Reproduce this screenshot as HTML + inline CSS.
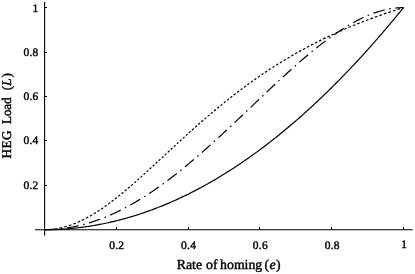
<!DOCTYPE html>
<html><head><meta charset="utf-8"><title>HEG Load</title>
<style>
html,body{margin:0;padding:0;background:#fff;}
body{width:415px;height:274px;overflow:hidden;font-family:"Liberation Serif",serif;}
svg{display:block;will-change:transform;}
text{font-family:"Liberation Serif",serif;fill:#000;stroke:#000;stroke-width:0.4px;text-rendering:geometricPrecision;}
</style></head><body>
<svg width="415" height="274" viewBox="0 0 415 274">
<rect width="415" height="274" fill="#fff"/>
<g stroke="#000" stroke-width="1.1" fill="none">
<line x1="35" y1="229.7" x2="412.7" y2="229.7"/>
<line x1="44.6" y1="2" x2="44.6" y2="235.6"/>
</g>
<g stroke="#000" stroke-width="1" fill="none"><line x1="116.5" y1="229.7" x2="116.5" y2="227.2"/><line x1="188.5" y1="229.7" x2="188.5" y2="227.2"/><line x1="259.5" y1="229.7" x2="259.5" y2="227.2"/><line x1="331.5" y1="229.7" x2="331.5" y2="227.2"/><line x1="403.5" y1="229.7" x2="403.5" y2="227.2"/><line x1="44.5" y1="185.5" x2="47.0" y2="185.5"/><line x1="44.5" y1="140.5" x2="47.0" y2="140.5"/><line x1="44.5" y1="96.5" x2="47.0" y2="96.5"/><line x1="44.5" y1="52.5" x2="47.0" y2="52.5"/><line x1="44.5" y1="7.5" x2="47.0" y2="7.5"/></g>
<g fill="none" stroke="#000" stroke-width="1.2">
<path d="M44.50,229.70 L45.70,229.70 L46.90,229.69 L48.10,229.68 L49.30,229.66 L50.50,229.64 L51.70,229.61 L52.90,229.58 L54.11,229.54 L55.31,229.50 L56.51,229.45 L57.71,229.40 L58.91,229.34 L60.11,229.28 L61.31,229.21 L62.51,229.14 L63.71,229.06 L64.91,228.98 L66.11,228.90 L67.31,228.80 L68.51,228.71 L69.71,228.60 L70.91,228.50 L72.12,228.39 L73.32,228.27 L74.52,228.15 L75.72,228.02 L76.92,227.89 L78.12,227.75 L79.32,227.61 L80.52,227.46 L81.72,227.31 L82.92,227.16 L84.12,226.99 L85.32,226.83 L86.52,226.66 L87.72,226.48 L88.92,226.30 L90.13,226.11 L91.33,225.92 L92.53,225.73 L93.73,225.52 L94.93,225.32 L96.13,225.11 L97.33,224.89 L98.53,224.67 L99.73,224.44 L100.93,224.21 L102.13,223.98 L103.33,223.74 L104.53,223.49 L105.73,223.24 L106.93,222.98 L108.14,222.72 L109.34,222.46 L110.54,222.18 L111.74,221.91 L112.94,221.63 L114.14,221.34 L115.34,221.05 L116.54,220.76 L117.74,220.46 L118.94,220.15 L120.14,219.84 L121.34,219.52 L122.54,219.20 L123.74,218.88 L124.94,218.55 L126.15,218.21 L127.35,217.87 L128.55,217.53 L129.75,217.18 L130.95,216.82 L132.15,216.46 L133.35,216.10 L134.55,215.73 L135.75,215.35 L136.95,214.97 L138.15,214.59 L139.35,214.20 L140.55,213.80 L141.75,213.40 L142.95,213.00 L144.16,212.59 L145.36,212.17 L146.56,211.75 L147.76,211.33 L148.96,210.90 L150.16,210.46 L151.36,210.02 L152.56,209.58 L153.76,209.13 L154.96,208.67 L156.16,208.21 L157.36,207.75 L158.56,207.28 L159.76,206.80 L160.96,206.33 L162.17,205.84 L163.37,205.35 L164.57,204.86 L165.77,204.36 L166.97,203.85 L168.17,203.34 L169.37,202.83 L170.57,202.31 L171.77,201.79 L172.97,201.26 L174.17,200.72 L175.37,200.18 L176.57,199.64 L177.77,199.09 L178.97,198.54 L180.18,197.98 L181.38,197.41 L182.58,196.84 L183.78,196.27 L184.98,195.69 L186.18,195.11 L187.38,194.52 L188.58,193.93 L189.78,193.33 L190.98,192.72 L192.18,192.11 L193.38,191.50 L194.58,190.88 L195.78,190.26 L196.98,189.63 L198.19,189.00 L199.39,188.36 L200.59,187.72 L201.79,187.07 L202.99,186.41 L204.19,185.76 L205.39,185.09 L206.59,184.42 L207.79,183.75 L208.99,183.07 L210.19,182.39 L211.39,181.70 L212.59,181.01 L213.79,180.31 L214.99,179.61 L216.20,178.90 L217.40,178.19 L218.60,177.47 L219.80,176.74 L221.00,176.02 L222.20,175.28 L223.40,174.55 L224.60,173.80 L225.80,173.06 L227.00,172.30 L228.20,171.54 L229.40,170.78 L230.60,170.01 L231.80,169.24 L233.01,168.46 L234.21,167.68 L235.41,166.89 L236.61,166.10 L237.81,165.30 L239.01,164.50 L240.21,163.69 L241.41,162.88 L242.61,162.06 L243.81,161.24 L245.01,160.42 L246.21,159.58 L247.41,158.75 L248.61,157.90 L249.81,157.06 L251.02,156.20 L252.22,155.35 L253.42,154.48 L254.62,153.62 L255.82,152.75 L257.02,151.87 L258.22,150.99 L259.42,150.10 L260.62,149.21 L261.82,148.31 L263.02,147.41 L264.22,146.50 L265.42,145.59 L266.62,144.67 L267.82,143.75 L269.03,142.83 L270.23,141.89 L271.43,140.96 L272.63,140.02 L273.83,139.07 L275.03,138.12 L276.23,137.16 L277.43,136.20 L278.63,135.23 L279.83,134.26 L281.03,133.29 L282.23,132.31 L283.43,131.32 L284.63,130.33 L285.83,129.33 L287.04,128.33 L288.24,127.32 L289.44,126.31 L290.64,125.30 L291.84,124.28 L293.04,123.25 L294.24,122.22 L295.44,121.18 L296.64,120.14 L297.84,119.10 L299.04,118.05 L300.24,116.99 L301.44,115.93 L302.64,114.86 L303.84,113.79 L305.05,112.72 L306.25,111.64 L307.45,110.55 L308.65,109.46 L309.85,108.36 L311.05,107.26 L312.25,106.16 L313.45,105.05 L314.65,103.93 L315.85,102.81 L317.05,101.69 L318.25,100.56 L319.45,99.42 L320.65,98.28 L321.85,97.13 L323.06,95.98 L324.26,94.83 L325.46,93.67 L326.66,92.50 L327.86,91.33 L329.06,90.16 L330.26,88.98 L331.46,87.79 L332.66,86.60 L333.86,85.41 L335.06,84.21 L336.26,83.00 L337.46,81.79 L338.66,80.58 L339.86,79.36 L341.07,78.13 L342.27,76.90 L343.47,75.67 L344.67,74.43 L345.87,73.19 L347.07,71.94 L348.27,70.68 L349.47,69.42 L350.67,68.16 L351.87,66.89 L353.07,65.61 L354.27,64.33 L355.47,63.05 L356.67,61.76 L357.87,60.47 L359.08,59.17 L360.28,57.86 L361.48,56.55 L362.68,55.24 L363.88,53.92 L365.08,52.60 L366.28,51.27 L367.48,49.93 L368.68,48.59 L369.88,47.25 L371.08,45.90 L372.28,44.55 L373.48,43.19 L374.68,41.82 L375.88,40.46 L377.09,39.08 L378.29,37.70 L379.49,36.32 L380.69,34.93 L381.89,33.54 L383.09,32.14 L384.29,30.73 L385.49,29.33 L386.69,27.91 L387.89,26.49 L389.09,25.07 L390.29,23.64 L391.49,22.21 L392.69,20.77 L393.89,19.33 L395.10,17.88 L396.30,16.42 L397.50,14.97 L398.70,13.50 L399.90,12.03 L401.10,10.56 L402.30,9.08 L403.50,7.60"/>
<path d="M44.50,229.70 L44.59,229.70 L46.39,229.68 L47.30,229.65 M49.54,229.52 L49.62,229.52 L51.41,229.37 L52.32,229.28 M54.53,229.01 L54.55,229.00 L56.35,228.74 L57.26,228.58 M59.43,228.17 L59.49,228.16 L61.29,227.77 L62.10,227.58 M64.21,227.05 L64.25,227.04 L66.05,226.53 L66.80,226.31 M68.85,225.67 L68.92,225.65 L70.71,225.04 L71.36,224.81 M73.34,224.08 L73.41,224.05 L75.20,223.34 L75.76,223.11 M77.68,222.30 L77.72,222.29 L79.51,221.48 L80.03,221.25 M81.88,220.37 L81.94,220.35 L83.73,219.46 L84.16,219.24 M85.96,218.31 L85.97,218.30 L87.77,217.33 L88.16,217.12 M89.91,216.14 L89.92,216.13 L91.72,215.09 L92.05,214.90 M93.74,213.88 L93.79,213.85 L95.58,212.74 L95.83,212.59 M97.48,211.54 L97.56,211.49 L99.35,210.32 L99.52,210.21 M101.13,209.13 L101.15,209.12 L102.94,207.89 L103.12,207.77 M104.70,206.66 L104.74,206.64 L106.53,205.36 L106.64,205.27 M108.19,204.15 L108.24,204.12 L110.03,202.79 L110.10,202.74 M111.62,201.59 L111.65,201.57 L113.45,200.20 L113.50,200.16 M114.99,199.00 L115.06,198.94 L116.84,197.55 M118.31,196.37 L118.38,196.31 L120.13,194.90 M121.58,193.72 L121.61,193.69 L123.38,192.24 M124.81,191.04 L124.85,191.01 L126.59,189.55 M128.01,188.34 L128.08,188.28 L129.76,186.84 M131.17,185.63 L131.22,185.58 L132.91,184.12 M134.30,182.90 L134.36,182.84 L136.03,181.38 M137.41,180.15 L137.41,180.15 L139.12,178.63 M140.50,177.40 L140.56,177.34 L142.20,175.86 M143.57,174.63 L143.61,174.59 L145.26,173.09 M146.62,171.86 L146.66,171.82 L148.31,170.32 M149.66,169.08 L149.71,169.03 L151.34,167.53 M152.69,166.29 L152.77,166.22 L154.37,164.74 M155.71,163.50 L155.73,163.49 L157.39,161.95 M158.73,160.71 L158.78,160.66 L160.40,159.16 M161.75,157.91 L161.83,157.83 L163.42,156.36 M164.76,155.12 L164.80,155.08 L166.43,153.57 M167.77,152.32 L167.85,152.25 L169.44,150.77 M170.79,149.53 L170.81,149.51 L172.46,147.98 M173.80,146.74 L173.86,146.68 L175.48,145.19 M176.83,143.95 L176.91,143.87 L178.51,142.40 M179.86,141.16 L179.88,141.15 L181.54,139.62 M182.90,138.38 L182.93,138.35 L184.59,136.84 M185.95,135.61 L185.98,135.58 L187.64,134.07 M189.01,132.84 L189.03,132.81 L190.71,131.30 M192.08,130.07 L192.09,130.07 L193.79,128.54 M195.17,127.32 L195.23,127.27 L196.89,125.79 M198.27,124.57 L198.28,124.56 L200.00,123.05 M201.39,121.83 L201.42,121.80 L203.13,120.31 M204.53,119.10 L204.56,119.07 L206.28,117.59 M207.69,116.38 L207.71,116.36 L209.44,114.88 M210.86,113.67 L210.94,113.61 L212.63,112.18 M214.06,110.98 L214.08,110.96 L215.84,109.49 M217.27,108.29 L217.31,108.26 L219.07,106.81 M220.52,105.62 L220.54,105.60 L222.32,104.15 M223.78,102.96 L223.87,102.89 L225.60,101.50 M227.07,100.32 L227.10,100.30 L228.89,98.87 L228.90,98.86 M230.38,97.69 L230.42,97.67 L232.21,96.26 L232.23,96.24 M233.73,95.08 L233.74,95.07 L235.54,93.68 L235.59,93.64 M237.09,92.49 L237.15,92.44 L238.95,91.08 L238.97,91.06 M240.49,89.91 L240.56,89.85 L242.36,88.51 L242.39,88.49 M243.91,87.35 L243.97,87.31 L245.77,85.98 L245.83,85.94 M247.37,84.81 L247.39,84.80 L249.18,83.49 L249.30,83.41 M250.85,82.29 L250.89,82.26 L252.68,80.98 L252.80,80.90 M254.37,79.79 L254.39,79.77 L256.18,78.51 L256.33,78.41 M257.91,77.31 L257.98,77.26 L259.77,76.02 L259.89,75.94 M261.49,74.85 L261.57,74.80 L263.37,73.58 L263.49,73.50 M265.10,72.41 L265.16,72.37 L266.96,71.18 L267.12,71.07 M268.74,70.00 L268.75,70.00 L270.55,68.82 L270.78,68.67 M272.42,67.61 L272.43,67.60 L274.23,66.45 L274.47,66.30 M276.13,65.25 L276.20,65.20 L278.00,64.07 L278.20,63.95 M279.87,62.91 L279.88,62.90 L281.68,61.79 L281.96,61.62 M283.64,60.60 L283.65,60.59 L285.45,59.51 L285.75,59.33 M287.45,58.31 L287.51,58.27 L289.31,57.21 L289.58,57.05 M291.29,56.05 L291.37,56.00 L293.17,54.96 L293.44,54.81 M295.17,53.82 L295.23,53.78 L297.03,52.76 L297.33,52.59 M299.08,51.61 L299.09,51.60 L300.89,50.61 L301.26,50.40 M303.02,49.44 L303.04,49.43 L304.84,48.45 L305.22,48.24 M307.00,47.29 L307.08,47.25 L308.88,46.29 L309.22,46.11 M311.01,45.17 L311.03,45.16 L312.83,44.23 L313.25,44.01 M315.05,43.09 L315.07,43.08 L316.87,42.17 L317.31,41.94 M319.13,41.03 L319.20,41.00 L321.00,40.11 L321.40,39.91 M323.24,39.01 L323.24,39.00 L325.04,38.13 L325.53,37.90 M327.38,37.01 L327.46,36.97 L329.26,36.12 L329.69,35.92 M331.55,35.05 L331.59,35.03 L333.39,34.20 L333.88,33.98 M335.76,33.12 L335.81,33.09 L337.61,32.28 L338.10,32.06 M339.99,31.22 L340.03,31.20 L341.83,30.41 L342.35,30.18 M344.25,29.36 L344.34,29.32 L346.14,28.55 L346.63,28.34 M348.55,27.52 L348.56,27.52 L350.35,26.76 L350.94,26.52 M352.87,25.72 L352.87,25.72 L354.66,24.99 L355.28,24.74 M357.22,23.95 L357.27,23.93 L359.06,23.21 L359.64,22.99 M361.60,22.22 L361.67,22.19 L363.46,21.49 L364.03,21.27 M366.00,20.51 L366.06,20.49 L367.86,19.80 L368.45,19.58 M370.43,18.84 L370.46,18.83 L372.26,18.16 L372.90,17.93 M374.89,17.20 L374.95,17.18 L376.75,16.53 L377.37,16.31 M379.37,15.59 L379.44,15.57 L381.24,14.93 L381.86,14.72 M383.87,14.02 L383.93,14.00 L385.73,13.38 L386.38,13.16 M388.40,12.47 L388.42,12.47 L390.21,11.87 L390.92,11.63 M392.95,10.96 L393.00,10.95 L394.79,10.36 L395.48,10.14 M397.52,9.48 L397.58,9.46 L399.37,8.89 L400.06,8.67 M402.11,8.03 L402.15,8.02 L403.50,7.60"/>
<path d="M44.50,229.70 L44.59,229.70 L46.39,229.69 L48.18,229.65 L49.98,229.60 L51.77,229.52 L53.57,229.42 L55.36,229.29 L56.29,229.22 M60.90,228.77 L60.93,228.77 L62.47,228.59 M67.06,227.95 L67.12,227.94 L68.92,227.65 L70.71,227.34 L72.51,227.00 L74.30,226.65 L76.10,226.27 L77.90,225.87 L78.62,225.71 M83.11,224.59 L83.19,224.57 L84.63,224.18 M89.07,222.91 L89.12,222.89 L90.91,222.34 L92.71,221.76 L94.50,221.17 L96.30,220.55 L98.09,219.91 L99.89,219.25 L100.19,219.14 M104.48,217.47 L104.56,217.44 L105.94,216.88 M110.18,215.08 L110.21,215.07 L112.01,214.27 L113.80,213.45 L115.60,212.62 L117.40,211.76 L119.19,210.89 L120.76,210.11 M124.84,208.01 L124.85,208.01 L126.22,207.28 M130.25,205.08 L130.32,205.04 L132.12,204.03 L133.91,203.00 L135.71,201.95 L137.50,200.89 L139.30,199.81 L140.30,199.20 M144.18,196.78 L144.24,196.74 L145.49,195.94 M149.32,193.44 L149.35,193.42 L151.15,192.23 L152.95,191.02 L154.74,189.79 L156.54,188.54 L158.33,187.29 L158.90,186.88 M162.61,184.22 L162.64,184.20 L163.86,183.31 M167.53,180.60 L167.58,180.56 L169.37,179.21 L171.17,177.84 L172.96,176.46 L174.76,175.07 L176.56,173.66 L176.71,173.54 M180.27,170.71 L180.33,170.67 L181.48,169.74 M185.01,166.87 L185.08,166.81 L186.88,165.33 L188.67,163.84 L190.47,162.33 L192.27,160.82 L193.87,159.45 M197.32,156.50 L197.38,156.45 L198.49,155.49 M201.92,152.50 L201.96,152.47 L203.76,150.89 L205.55,149.30 L207.35,147.70 L209.14,146.10 L210.54,144.84 M213.91,141.80 L213.99,141.72 L215.05,140.76 M218.40,137.70 L218.48,137.63 L220.27,135.98 L222.07,134.32 L223.87,132.66 L225.66,130.99 L226.86,129.87 M230.17,126.77 L230.24,126.71 L231.30,125.71 M234.60,122.61 L234.64,122.57 L236.43,120.88 L238.23,119.18 L240.02,117.48 L241.82,115.78 L242.97,114.69 M246.25,111.56 L246.31,111.51 L247.37,110.50 M250.65,107.37 L250.71,107.32 L252.50,105.61 L254.30,103.90 L256.09,102.19 L257.89,100.48 L259.00,99.43 M262.28,96.31 L262.29,96.30 L263.40,95.25 M266.69,92.13 L266.78,92.05 L268.57,90.36 L270.37,88.67 L272.16,86.98 L273.96,85.30 L275.09,84.24 M278.41,81.15 L278.45,81.12 L279.54,80.10 M282.88,77.03 L282.94,76.97 L284.73,75.33 L286.53,73.69 L288.32,72.06 L290.12,70.44 L291.42,69.27 M294.80,66.25 L294.88,66.19 L295.96,65.23 M299.37,62.23 L299.45,62.16 L301.25,60.60 L303.04,59.06 L304.84,57.52 L306.64,56.00 L308.15,54.73 M311.65,51.82 L311.66,51.82 L312.85,50.84 M316.39,47.98 L316.42,47.96 L318.22,46.53 L320.01,45.12 L321.81,43.73 L323.60,42.36 L325.40,41.00 L325.54,40.89 M329.21,38.18 L329.26,38.14 L330.46,37.27 M334.19,34.63 L334.20,34.63 L335.99,33.39 L337.79,32.17 L339.58,30.97 L341.38,29.80 L343.17,28.65 L343.87,28.21 M347.77,25.82 L347.84,25.77 L349.11,25.02 M353.09,22.74 L353.14,22.72 L354.93,21.73 L356.73,20.78 L358.52,19.85 L360.32,18.95 L362.11,18.08 L363.49,17.44 M367.69,15.58 L367.77,15.55 L369.14,14.98 M373.44,13.32 L373.52,13.29 L375.31,12.66 L377.11,12.06 L378.90,11.49 L380.70,10.96 L382.49,10.47 L384.29,10.01 L384.68,9.91 M389.21,8.95 L389.23,8.95 L390.76,8.68 M395.36,8.05 L395.42,8.04 L397.22,7.87 L399.01,7.74 L400.81,7.65 L402.60,7.61 L403.50,7.60"/>
</g>
<g font-size="11.5" letter-spacing="0.25"><text x="116.80" y="248.5" text-anchor="middle">0.2</text><text x="188.60" y="248.5" text-anchor="middle">0.4</text><text x="260.40" y="248.5" text-anchor="middle">0.6</text><text x="332.20" y="248.5" text-anchor="middle">0.8</text><text x="404.20" y="248.0" text-anchor="middle">1</text><text x="38.6" y="188.88" text-anchor="end">0.2</text><text x="38.6" y="144.46" text-anchor="end">0.4</text><text x="38.6" y="100.04" text-anchor="end">0.6</text><text x="38.6" y="55.62" text-anchor="end">0.8</text><text x="38.6" y="11.60" text-anchor="end">1</text></g>
<text x="176.8" y="269" font-size="13.8">Rate <tspan dx="0.5">of</tspan> <tspan dx="-0.9">homing</tspan> <tspan dx="-1.2">(</tspan><tspan font-style="italic" dx="0.5">e</tspan><tspan dx="0.3">)</tspan></text>
<g font-size="13.2">
<text transform="translate(10.5,158.4) rotate(-90)" letter-spacing="0.4">HEG</text>
<text transform="translate(10.5,124.0) rotate(-90)" letter-spacing="-0.15">Load</text>
<text transform="translate(10.5,90.2) rotate(-90)">(<tspan font-style="italic">L</tspan><tspan dx="1.0">)</tspan></text>
</g>
</svg>
</body></html>
